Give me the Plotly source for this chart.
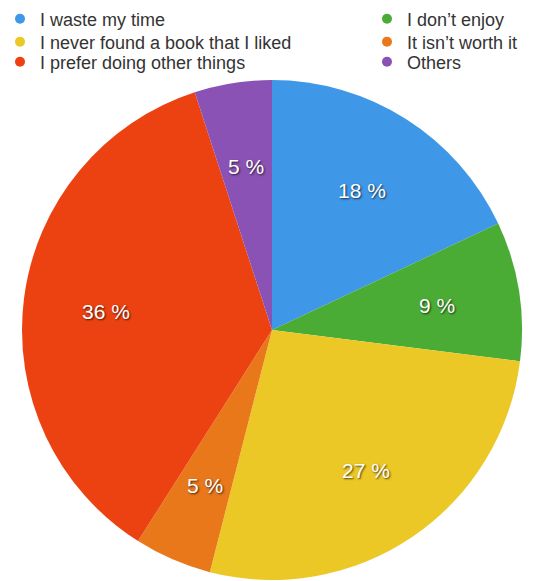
import math
import plotly.graph_objects as go

labels = ["I waste my time", "I don\u2019t enjoy", "I never found a book that I liked",
          "It isn\u2019t worth it", "I prefer doing other things", "Others"]
values = [18, 9, 27, 5, 36, 5]
colors = ["#3f97e8", "#4aac35", "#ecc826", "#e8781a", "#ec4212", "#8a52b4"]
# legend layout: (column, row) for each category
legend_col = [0, 1, 0, 1, 0, 1]
legend_row = [0, 0, 1, 1, 2, 2]

W, H = 534, 581
cx, cy, r = 272, 330, 250
col_x = [0, 367]
row_y = [19, 42, 62]

fig = go.Figure()
fig.add_trace(go.Pie(
    labels=labels, values=values, sort=False, direction="clockwise", rotation=0,
    marker=dict(colors=colors, line=dict(width=0)),
    textinfo="none", showlegend=False, hoverinfo="label+percent",
    domain=dict(x=[(cx - r) / W, (cx + r) / W], y=[(H - cy - r) / H, (H - cy + r) / H]),
))

# percentage labels placed along each slice's mid-angle
total = sum(values)
cum = 0
for v in values:
    theta = math.radians((cum + v / 2) / total * 360)
    cum += v
    px = cx + 0.67 * r * math.sin(theta)
    py = cy - 0.67 * r * math.cos(theta) + 2
    fig.add_annotation(
        x=px / W, y=1 - py / H, xref="paper", yref="paper", showarrow=False,
        xanchor="center", yanchor="middle",
        text=f"{round(v / total * 100)} %",
        font=dict(family="Liberation Sans", size=21, color="white",
                  shadow="1px 1px 2px rgba(0,0,0,0.7)"),
    )

legend_font = dict(family="Liberation Sans", size=18, color="#333333")
layout_legends = {}
for i, lab in enumerate(labels):
    key = "legend" if i == 0 else f"legend{i + 1}"
    fig.add_trace(go.Scatter(x=[None], y=[None], mode="markers", name=lab,
                             marker=dict(size=10, color=colors[i]), legend=key,
                             hoverinfo="skip"))
    layout_legends[key] = dict(
        x=col_x[legend_col[i]] / W, y=1 - row_y[legend_row[i]] / H,
        xanchor="left", yanchor="middle", font=legend_font,
        bgcolor="rgba(0,0,0,0)",
    )

fig.update_layout(
    width=W, height=H,
    margin=dict(l=0, r=0, t=0, b=0),
    paper_bgcolor="white", plot_bgcolor="white",
    xaxis=dict(visible=False), yaxis=dict(visible=False),
    **layout_legends,
)
fig.write_html("out.html", config={"displayModeBar": False},
               post_script="document.body.style.margin='0px';")
